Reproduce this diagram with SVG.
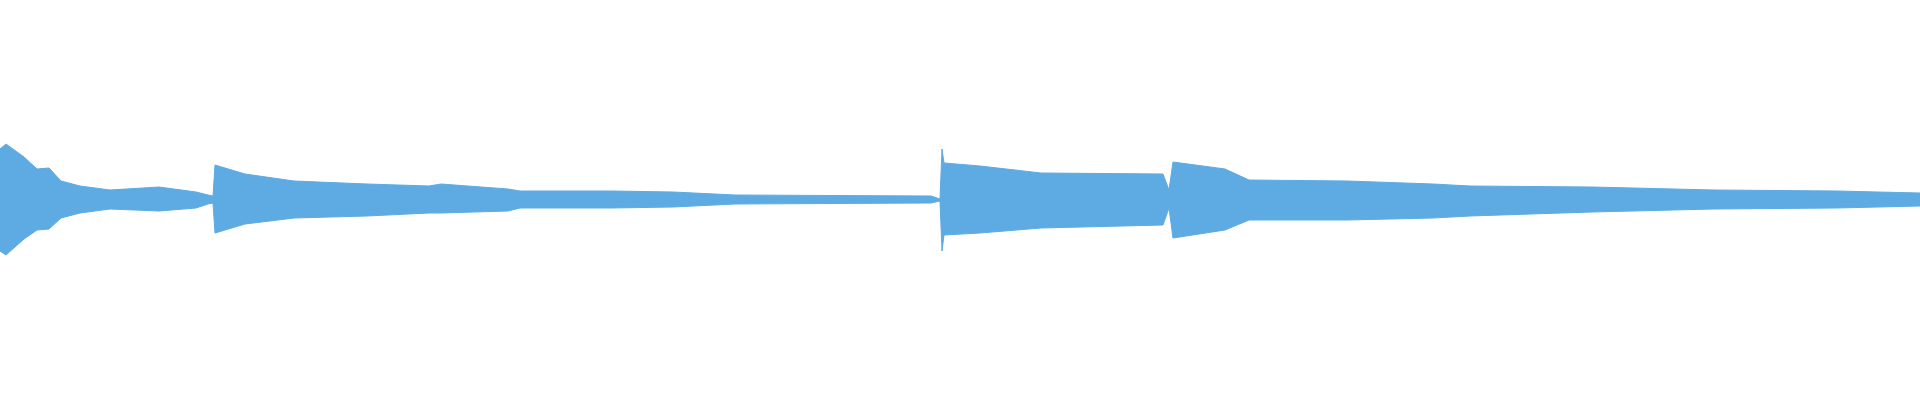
<svg xmlns="http://www.w3.org/2000/svg" width="1920" height="400" viewBox="0 0 1920 400">
<style>.w{fill:#5dabe2;stroke:#5dabe2;stroke-width:1;stroke-linejoin:round}</style>
<rect width="1920" height="400" fill="#ffffff"/>
<path class="w" d="M0,149 L6,144 L24,157 L37,169 L49,168 L61,181 L80,186 L110,190 L159,187 L196,192 L208,195 L213,196 L215,165 L245,174 L294,181 L367,184 L429,186 L441,184 L508,189 L520,191 L612,191 L673,192 L735,195 L931,196 L940,199 L942,149 L944,163 L980,166 L1041,173 L1163,174 L1169,190 L1173,162 L1225,169 L1249,180 L1347,181 L1433,184 L1470,186 L1592,187 L1714,190 L1837,191 L1920,193 L1920,206 L1837,208 L1714,209 L1592,212 L1470,216 L1433,218 L1347,220 L1249,220 L1225,230 L1173,238 L1169,208 L1163,225 L1041,228 L980,233 L944,235 L942,251 L940,201 L931,203 L735,204 L673,207 L612,208 L520,208 L508,211 L441,213 L429,213 L367,216 L294,218 L245,224 L215,233 L213,203 L208,204 L196,208 L159,211 L110,209 L80,213 L61,218 L49,229 L37,230 L24,239 L6,255 L0,251 Z"/>
</svg>
